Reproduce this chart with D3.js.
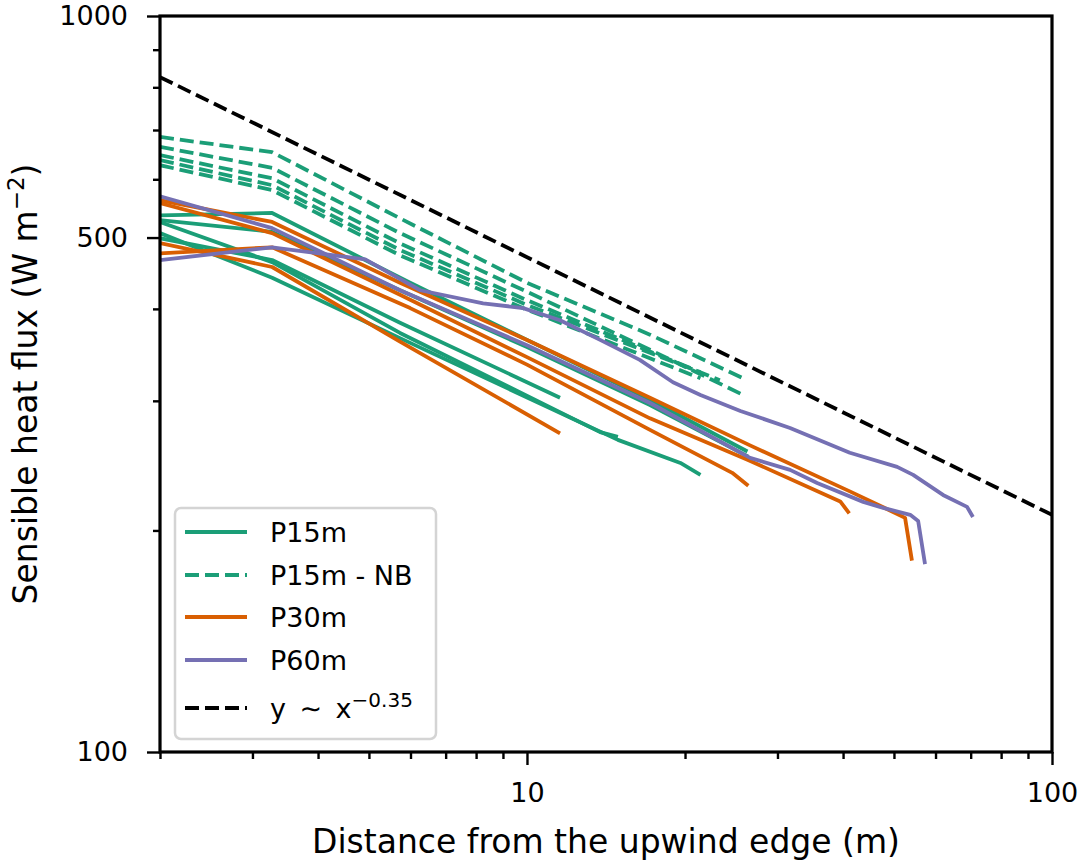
<!DOCTYPE html>
<html>
<head>
<meta charset="utf-8">
<script src="https://cdn.jsdelivr.net/npm/d3@7"></script>
<style>
    body { margin: 0; background: #fff; }
    text { font-family: "DejaVu Sans", sans-serif; }
</style>
</head>
<body>
<div id="chart"></div>
<script>
// Runs of [distance (m), sensible heat flux (W m-2)]
const p15mRuns = [
    [[2, 536], [3.27, 540], [5.99, 434], [10, 363], [17.15, 301], [26.3, 256]],
    [[2, 528], [3.27, 509], [5.73, 424], [10, 355], [17.15, 296], [26.4, 252]],
    [[2, 499], [3.27, 466], [5.73, 383], [11.56, 303]],
    [[2, 525], [3.27, 463], [5.73, 371], [13.78, 272], [14.9, 268]],
    [[2, 507], [3.27, 441], [5.73, 365], [14.9, 265.5], [19.6, 247], [21.4, 238]]
];

const p15mNbRuns = [
    [[2, 685], [3.27, 653], [5.73, 531], [10, 434], [17.15, 369], [25.8, 322]],
    [[2, 664], [3.27, 622], [5.73, 507], [10, 422], [17.15, 352], [25.7, 306]],
    [[2, 647], [3.27, 602], [5.73, 491], [10, 411], [17.15, 350], [23.3, 320]],
    [[2, 637], [3.27, 589], [5.73, 481], [10, 405], [21.4, 328]],
    [[2, 627], [3.27, 580], [5.73, 473], [10, 399], [21.4, 322]]
];

const p30mRuns = [
    [[2, 562], [3.27, 525], [5.73, 434], [10, 363], [17.15, 303], [26.6, 261], [41.2, 226], [47.7, 215], [52.5, 208], [54.1, 182]],
    [[2, 557], [3.27, 507], [5.73, 418], [10, 344], [17.15, 284], [26.3, 249.5], [39.5, 219], [41.1, 211]],
    [[2, 491.5], [3.27, 456], [5.73, 361], [11.56, 271]],
    [[2, 476], [3.27, 485], [5.99, 401], [10, 336], [17.15, 274], [24.6, 239.5], [26.4, 230]]
];

const p60mRuns = [
    [[2, 569], [3.27, 515], [5.73, 424], [10, 357], [17.15, 298], [26.6, 251], [31.7, 241.7], [35.7, 232],
     [43.7, 218.7], [47.7, 214.6], [53.7, 210], [55.6, 206], [57.3, 180]],
    [[2, 466], [3.27, 485], [4.92, 467], [6.26, 424], [8.25, 407], [9.83, 401], [11.56, 386], [13.78, 363],
     [16.4, 341], [18.97, 318], [21.4, 305.5], [25.5, 290.6], [31.7, 275.6], [41.2, 255], [50.7, 244],
     [54.4, 238], [62.0, 223.5], [68.9, 215.3], [70.7, 208.6]]
];

// y ~ x^-0.35 guide line
const refX = [2, 100];
const refY = [826, 210];

const xMajorTicks = [10, 100];
const xMinorTicks = [2, 3, 4, 5, 6, 7, 8, 9, 20, 30, 40, 50, 60, 70, 80, 90];
const yMajorTicks = [100, 500, 1000];
const yMinorTicks = [200, 300, 400, 600, 700, 800, 900];

const legendLabels = ['P15m', 'P15m - NB', 'P30m', 'P60m', 'y\u2002\u223C\u2002x'];

const WIDTH = 1080;
const HEIGHT = 864;
const LEFT = 160, RIGHT = 1052, TOP = 16, BOTTOM = 752;

const GREEN = '#1b9e77';
const ORANGE = '#d95f02';
const PURPLE = '#7570b3';
const LINE_W = 3.8;
const DASH = '14,6';

const svg = d3.select('#chart')
    .append('svg')
    .attr('width', WIDTH)
    .attr('height', HEIGHT);

const xScale = d3.scaleLog().domain([2, 100]).range([LEFT, RIGHT]);
const yScale = d3.scaleLog().domain([100, 1000]).range([BOTTOM, TOP]);

svg.append('clipPath').attr('id', 'plot-clip')
    .append('rect')
    .attr('x', LEFT).attr('y', TOP)
    .attr('width', RIGHT - LEFT).attr('height', BOTTOM - TOP);

const line = d3.line()
    .x(d => xScale(d[0]))
    .y(d => yScale(d[1]));

const plot = svg.append('g').attr('clip-path', 'url(#plot-clip)');

function drawRuns(runs, color, dash) {
    plot.append('g')
        .selectAll('path')
        .data(runs)
        .enter()
        .append('path')
        .attr('d', line)
        .attr('fill', 'none')
        .attr('stroke', color)
        .attr('stroke-width', LINE_W)
        .attr('stroke-dasharray', dash)
        .attr('stroke-linejoin', 'round');
}

drawRuns(p15mRuns, GREEN, null);
drawRuns(p15mNbRuns, GREEN, DASH);
drawRuns(p30mRuns, ORANGE, null);
drawRuns(p60mRuns, PURPLE, null);

plot.append('path')
    .datum(refX.map((v, i) => [v, refY[i]]))
    .attr('d', line)
    .attr('fill', 'none')
    .attr('stroke', '#000')
    .attr('stroke-width', LINE_W)
    .attr('stroke-dasharray', DASH);

// Axes
function styleAxis(g) {
    g.select('.domain').remove();
    g.selectAll('.tick line').attr('stroke', '#000').attr('stroke-width', 2.4);
    g.selectAll('.tick text')
        .attr('fill', '#000')
        .style('font-size', '27px')
        .style('font-family', '"DejaVu Sans", sans-serif');
}

svg.append('g')
    .attr('transform', `translate(0,${BOTTOM})`)
    .call(d3.axisBottom(xScale).tickValues(xMinorTicks).tickSize(7).tickFormat(''))
    .call(styleAxis);

svg.append('g')
    .attr('transform', `translate(0,${BOTTOM})`)
    .call(d3.axisBottom(xScale).tickValues(xMajorTicks).tickSize(13).tickPadding(18).tickFormat(d3.format('d')))
    .call(styleAxis);

svg.append('g')
    .attr('transform', `translate(${LEFT},0)`)
    .call(d3.axisLeft(yScale).tickValues(yMinorTicks).tickSize(7).tickFormat(''))
    .call(styleAxis);

svg.append('g')
    .attr('transform', `translate(${LEFT},0)`)
    .call(d3.axisLeft(yScale).tickValues(yMajorTicks).tickSize(13).tickPadding(19).tickFormat(d3.format('d')))
    .call(styleAxis);

// Frame
svg.append('rect')
    .attr('x', LEFT).attr('y', TOP)
    .attr('width', RIGHT - LEFT).attr('height', BOTTOM - TOP)
    .attr('fill', 'none')
    .attr('stroke', '#000')
    .attr('stroke-width', 3.2);

// Axis labels
svg.append('text')
    .attr('x', (LEFT + RIGHT) / 2)
    .attr('y', 853)
    .attr('text-anchor', 'middle')
    .style('font-size', '33px')
    .text('Distance from the upwind edge (m)');

const yLabel = svg.append('text')
    .attr('transform', `translate(37,${(TOP + BOTTOM) / 2}) rotate(-90)`)
    .attr('text-anchor', 'middle')
    .style('font-size', '33px');
yLabel.append('tspan').text('Sensible heat flux (W m');
yLabel.append('tspan').attr('dy', -13).style('font-size', '23px').text('\u22122');
yLabel.append('tspan').attr('dy', 13).text(')');

// Legend
const legend = svg.append('g');
legend.append('rect')
    .attr('x', 175).attr('y', 508)
    .attr('width', 261).attr('height', 231)
    .attr('rx', 6)
    .attr('fill', '#fff')
    .attr('fill-opacity', 0.8)
    .attr('stroke', '#d4d4d4')
    .attr('stroke-width', 2.5);

const legendRows = [532, 575, 617, 660, 708];
const legendColors = [GREEN, GREEN, ORANGE, PURPLE, '#000'];
const legendDash = [null, DASH, null, null, DASH];

legendLabels.forEach((label, i) => {
    const ry = legendRows[i];
    legend.append('line')
        .attr('x1', 185).attr('x2', 247)
        .attr('y1', ry).attr('y2', ry)
        .attr('stroke', legendColors[i])
        .attr('stroke-width', LINE_W)
        .attr('stroke-dasharray', legendDash[i]);
    const t = legend.append('text')
        .attr('x', 270)
        .attr('y', ry + 10)
        .style('font-size', '27px')
        .text(label);
    if (i === 4) {
        t.append('tspan').attr('dy', -11).style('font-size', '20px').text('\u22120.35');
    }
});
</script>
</body>
</html>
